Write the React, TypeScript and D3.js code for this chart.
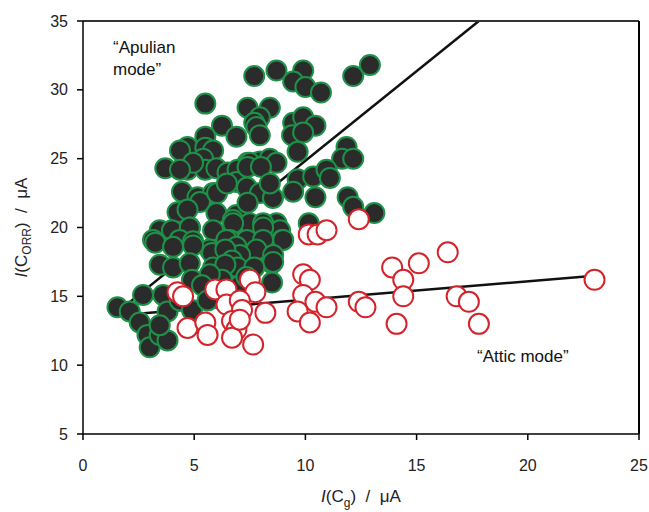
import React from "react";
import * as d3 from "d3";

// Apulian mode samples [I(Cg), I(CORR)] in µA
const apulianPoints: [number, number][] = [
  [7.7, 31.0], [8.7, 31.4], [9.9, 31.4], [9.45, 30.6], [10.0, 30.2], [10.7, 29.8], [12.15, 31.0], [12.9, 31.8],
  [5.5, 29.0], [7.4, 28.7], [8.4, 28.7], [7.95, 28.0], [7.7, 27.6], [6.25, 27.4], [7.8, 27.3], [9.45, 27.6], [9.9, 28.0], [10.45, 27.4],
  [5.5, 26.6], [6.9, 26.6], [7.95, 26.7], [9.4, 26.7], [9.9, 26.9], [9.65, 25.5], [11.85, 25.85], [11.65, 25.0], [12.15, 25.0],
  [4.7, 25.85], [5.5, 25.8], [5.85, 25.6], [4.36, 25.6], [7.4, 24.7], [7.95, 24.8], [8.4, 25.0], [8.7, 24.7], [7.5, 24.7],
  [3.7, 24.3], [4.7, 24.2], [5.4, 25.0], [5.5, 24.2], [6.0, 24.3], [6.5, 24.0], [6.95, 24.2], [9.65, 23.5], [10.35, 23.7], [10.95, 24.2], [11.1, 23.6],
  [4.95, 24.7], [4.36, 24.2],
  [4.45, 22.6], [5.15, 22.2], [5.85, 22.5], [6.9, 23.3], [7.4, 24.4], [8.0, 24.4], [8.25, 22.7], [9.45, 22.6], [10.45, 22.2], [11.9, 22.2], [12.15, 21.5], [13.1, 21.05],
  [5.26, 21.85], [6.03, 22.5], [6.47, 23.2], [7.37, 22.9], [7.96, 22.5], [8.54, 22.15], [8.4, 23.2],
  [4.25, 21.1], [4.7, 21.3], [6.0, 21.05], [6.9, 20.9], [7.4, 21.8], [8.7, 20.3], [10.15, 20.3],
  [6.74, 20.55], [7.5, 20.3], [8.1, 20.3], [8.86, 19.8], [4.81, 20.0], [5.85, 19.8],
  [3.45, 19.8], [4.0, 19.8], [4.8, 20.0], [6.75, 20.3], [8.1, 20.0], [8.95, 19.1],
  [6.6, 19.1], [7.37, 19.1], [8.1, 19.1], [9.0, 19.1],
  [3.15, 19.1], [4.35, 19.1], [4.95, 19.0], [5.7, 18.4], [6.45, 19.1], [6.9, 18.6], [7.8, 18.4], [8.55, 18.0],
  [3.25, 18.9], [4.05, 18.6], [4.95, 18.7], [5.8, 18.15], [7.06, 18.0], [6.4, 18.4],
  [3.45, 17.3], [4.05, 17.1], [4.8, 17.4], [5.85, 17.1], [6.7, 17.6], [6.95, 17.1], [8.5, 17.4], [8.55, 17.5], [8.5, 16.0],
  [6.4, 17.3], [7.7, 17.1], [6.25, 16.2], [7.06, 15.8], [5.7, 16.6],
  [4.9, 16.2], [5.35, 15.8], [7.35, 16.4],
  [2.7, 15.1], [3.6, 15.1], [1.55, 14.2], [2.1, 13.9], [2.55, 13.1], [2.9, 12.2], [3.0, 11.3], [3.45, 12.2], [3.8, 11.8],
  [3.8, 13.9], [4.35, 14.7], [3.45, 12.9], [4.9, 14.0], [5.6, 14.7],
];

// Attic mode samples [I(Cg), I(CORR)] in µA
const atticPoints: [number, number][] = [
  [4.25, 15.3], [4.5, 15.0], [5.95, 15.5], [6.45, 15.5], [7.5, 16.2], [7.75, 15.3], [6.45, 14.4], [7.05, 14.7], [7.15, 14.0],
  [8.2, 13.8], [4.7, 12.7], [5.5, 13.1], [5.6, 12.2], [6.7, 13.2], [6.9, 12.6], [6.7, 12.0], [7.65, 11.5], [7.05, 13.3],
  [12.4, 20.6], [10.15, 19.5], [10.55, 19.5], [10.95, 19.8], [9.9, 16.6], [10.2, 16.2], [9.9, 15.1], [10.45, 14.6],
  [10.95, 14.2], [9.65, 13.9], [10.2, 13.1], [12.4, 14.6], [12.7, 14.2], [13.9, 17.1], [14.4, 16.2], [15.1, 17.4],
  [16.4, 18.2], [14.4, 15.0], [14.1, 13.0], [16.8, 15.0], [17.35, 14.6], [17.8, 13.0], [23.0, 16.2],
];

// Trend lines (endpoints in data units)
const apulianTrend: [number, number][] = [[1.5, 13.8], [17.8, 35]];
const atticTrend: [number, number][] = [[1.5, 13.6], [23.0, 16.5]];

const xTicks = [0, 5, 10, 15, 20, 25];
const yTicks = [5, 10, 15, 20, 25, 30, 35];

const W = 649;
const H = 512;
const left = 83;
const right = 639;
const top = 21;
const bottom = 434;

const NB = "\u00A0";

export default function App() {
  const x = d3.scaleLinear().domain([0, 25]).range([left, right]);
  const y = d3.scaleLinear().domain([5, 35]).range([bottom, top]);
  const line = d3
    .line<[number, number]>()
    .x((d) => x(d[0]))
    .y((d) => y(d[1]));
  const font = "'Liberation Sans', Arial, sans-serif";
  const r = 10;

  return (
    <div style={{ position: "fixed", left: 0, top: 0 }}>
      <svg width={W} height={H} style={{ display: "block", background: "#fff" }} fontFamily={font}>
        <defs>
          <clipPath id="plot">
            <rect x={left} y={top} width={right - left} height={bottom - top} />
          </clipPath>
        </defs>
        {/* trend lines */}
        <g clipPath="url(#plot)">
          <path d={line(apulianTrend) || ""} stroke="#111" strokeWidth={2.5} fill="none" />
          <path d={line(atticTrend) || ""} stroke="#111" strokeWidth={2.5} fill="none" />
        </g>
        {/* points */}
        <g>
          {apulianPoints.map((d, i) => (
            <circle key={"a" + i} cx={x(d[0])} cy={y(d[1])} r={r} fill="#2b2b2b" stroke="#1f9148" strokeWidth={2} />
          ))}
          {atticPoints.map((d, i) => (
            <circle key={"t" + i} cx={x(d[0])} cy={y(d[1])} r={r} fill="#ffffff" stroke="#d3242c" strokeWidth={2} />
          ))}
        </g>
        {/* frame */}
        <line x1={left} x2={right} y1={top} y2={top} stroke="#333" strokeWidth={2} />
        <line x1={right} x2={right} y1={top} y2={bottom} stroke="#000" strokeWidth={2} />
        <line x1={left} x2={left} y1={top} y2={bottom} stroke="#000" strokeWidth={1.5} />
        <line x1={left} x2={right} y1={bottom} y2={bottom} stroke="#000" strokeWidth={1.5} />
        {/* y ticks */}
        {yTicks.map((t) => (
          <g key={"y" + t}>
            <line x1={left - 6} x2={left} y1={y(t)} y2={y(t)} stroke="#000" strokeWidth={1.5} />
            <text x={left - 15} y={y(t)} dy="0.35em" textAnchor="end" fontSize={16} fill="#222">
              {t}
            </text>
          </g>
        ))}
        {/* x ticks */}
        {xTicks.map((t) => (
          <g key={"x" + t}>
            <line x1={x(t)} x2={x(t)} y1={bottom} y2={bottom + 6} stroke="#000" strokeWidth={1.5} />
            <text x={x(t)} y={bottom + 37} textAnchor="middle" fontSize={16} fill="#222">
              {t}
            </text>
          </g>
        ))}
        {/* axis titles */}
        <text x={(left + right) / 2} y={502} textAnchor="middle" fontSize={17} fill="#222">
          <tspan fontStyle="italic">I</tspan>
          <tspan>(C</tspan>
          <tspan fontSize={12} dy={5}>g</tspan>
          <tspan dy={-5}>{`)${NB}${NB}/${NB}${NB}μA`}</tspan>
        </text>
        <text transform={`translate(27, ${(top + bottom) / 2}) rotate(-90)`} textAnchor="middle" fontSize={17} fill="#222">
          <tspan fontStyle="italic">I</tspan>
          <tspan>(C</tspan>
          <tspan fontSize={12} dy={4}>ORR</tspan>
          <tspan dy={-4}>{`)${NB}${NB}/${NB}${NB}μA`}</tspan>
        </text>
        {/* annotations */}
        <text x={113} y={53} fontSize={17} fill="#111">“Apulian</text>
        <text x={113} y={75} fontSize={17} fill="#111">mode”</text>
        <text x={477} y={362} fontSize={17} fill="#111">“Attic mode”</text>
      </svg>
    </div>
  );
}
